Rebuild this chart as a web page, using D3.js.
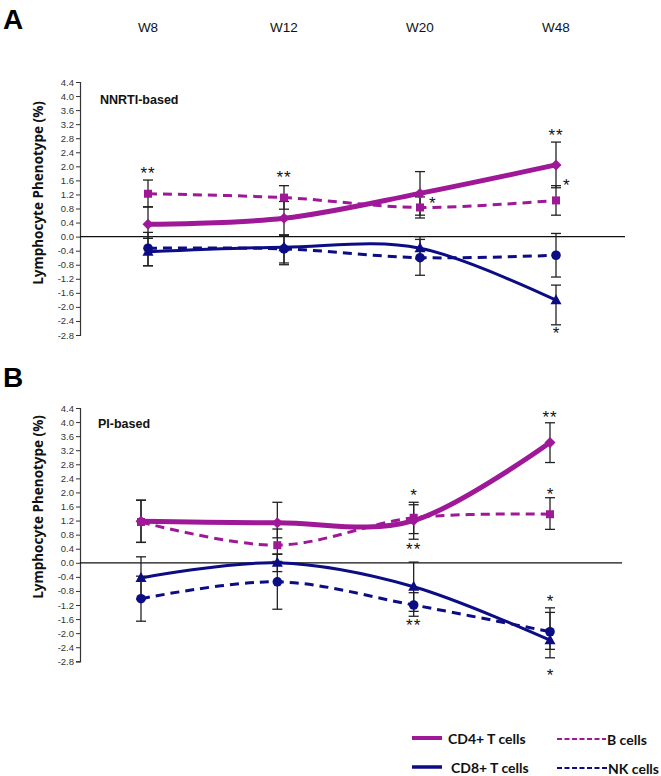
<!DOCTYPE html>
<html><head><meta charset="utf-8">
<script src="https://cdn.jsdelivr.net/npm/d3@7"></script>
<style>body{margin:0;background:#fff}svg{display:block}</style>
</head><body><svg id="c" width="661" height="776"></svg>
<script>
// ---------- data ----------
const weeks = ["W8", "W12", "W20", "W48"];
const yTickLabels = ["4.4","4.0","3.6","3.2","2.8","2.4","2.0","1.6","1.2","0.8","0.4","0.0","-0.4","-0.8","-1.2","-1.6","-2.0","-2.4","-2.8"];
const seriesNames = ["CD4+ T cells", "CD8+ T cells", "B cells", "NK cells"];

// Panel A (NNRTI-based)
const cd4A = [0.35, 0.52, 1.23, 2.04];
const cd4A_up = [0.50, 0.48, 0.62, 0.65];
const cd4A_dn = [0.40, 0.48, 0.62, 0.65];
const bA = [1.22, 1.11, 0.83, 1.03];
const bA_up = [0.39, 0.34, 0.30, 0.42];
const bA_dn = [0.38, 0.33, 0.30, 0.42];
const cd8A = [-0.43, -0.30, -0.33, -1.81];
const cd8A_up = [0.43, 0.33, 0.33, 0.43];
const cd8A_dn = [0.40, 0.45, 0.30, 0.70];
const nkA = [-0.33, -0.35, -0.60, -0.53];
const nkA_up = [0.45, 0.40, 0.52, 0.62];
const nkA_dn = [0.50, 0.45, 0.50, 0.62];
const starsA = [
  {w: "W8", v: 1.88, t: "**", dx: 0},
  {w: "W12", v: 1.75, t: "**", dx: 0},
  {w: "W20", v: 1.01, t: "*", dx: 9},
  {w: "W48", v: 2.95, t: "**", dx: 0},
  {w: "W48", v: 1.53, t: "*", dx: 7},
  {w: "W48", v: -2.68, t: "*", dx: 0}
];

// Panel B (PI-based)
const cd4B = [1.18, 1.14, 1.20, 3.42];
const cd4B_up = [0.60, 0.58, 0.45, 0.56];
const cd4B_dn = [0.60, 0.43, 0.53, 0.57];
const bB = [1.16, 0.50, 1.28, 1.38];
const bB_up = [0.62, 0.46, 0.44, 0.47];
const bB_dn = [0.58, 0.46, 0.45, 0.43];
const cd8B = [-0.43, 0.00, -0.68, -2.20];
const cd8B_up = [0.60, 0.25, 0.70, 0.79];
const cd8B_dn = [0.60, 0.25, 0.70, 0.50];
const nkB = [-1.02, -0.54, -1.20, -1.96];
const nkB_up = [0.64, 0.78, 0.35, 0.68];
const nkB_dn = [0.64, 0.78, 0.32, 0.50];
const starsB = [
  {w: "W20", v: 1.98, t: "*", dx: 0},
  {w: "W20", v: 0.45, t: "**", dx: 0},
  {w: "W20", v: -1.72, t: "**", dx: 0},
  {w: "W48", v: 4.20, t: "**", dx: 0},
  {w: "W48", v: 2.02, t: "*", dx: 0},
  {w: "W48", v: -1.04, t: "*", dx: 0},
  {w: "W48", v: -3.14, t: "*", dx: 0}
];

// ---------- styles ----------
const MAG = "#9E1898", NAVY = "#0C0C84";
const svg = d3.select("#c");
const curve = d3.curveCardinal.tension(0);

function pack(v, up, dn) { return weeks.map((w, i) => ({w, v: v[i], up: up[i], dn: dn[i]})); }

function marker(g, type, x, y, color) {
  if (type === "diamond") {
    g.append("path").attr("d", `M${x},${y-5.5}L${x+5.5},${y}L${x},${y+5.5}L${x-5.5},${y}Z`).attr("fill", color);
  } else if (type === "square") {
    g.append("rect").attr("x", x-4).attr("y", y-4).attr("width", 8).attr("height", 8).attr("fill", color);
  } else if (type === "triangle") {
    g.append("path").attr("d", `M${x},${y-6}L${x+5.5},${y+4}L${x-5.5},${y+4}Z`).attr("fill", color);
  } else {
    g.append("circle").attr("cx", x).attr("cy", y).attr("r", 4.8).attr("fill", color);
  }
}

function drawPanel(cfg) {
  const x = d3.scalePoint().domain(weeks).range(cfg.xr).padding(0);
  const y = d3.scaleLinear().domain([-2.8, 4.4]).range(cfg.yr);
  const g = svg.append("g");

  // y axis
  const ax = d3.axisLeft(y).tickValues(yTickLabels.map(Number)).tickFormat((d, i) => yTickLabels[i]).tickSize(4).tickSizeOuter(4);
  const ag = g.append("g").attr("transform", `translate(${cfg.axisX},0)`).call(ax);
  ag.select(".domain").attr("stroke", "#333").attr("stroke-width", 1.2);
  ag.selectAll(".tick line").attr("stroke", "#333");
  ag.selectAll(".tick text").attr("font-family", "Liberation Sans, Arial, sans-serif").attr("font-size", 9.5).attr("fill", "#333").attr("x", -6);

  // zero line
  g.append("line").attr("x1", cfg.axisX).attr("x2", cfg.zeroEnd).attr("y1", y(0)).attr("y2", y(0)).attr("stroke", "#111").attr("stroke-width", 1.2);

  // title
  g.append("text").attr("transform", `translate(38,${cfg.titleY}) rotate(-90)`).attr("text-anchor", "middle").attr("dominant-baseline", "central")
    .attr("font-family", "Open Sans, sans-serif").attr("font-weight", "bold").attr("font-size", 13.5).attr("fill", "#111").text("Lymphocyte Phenotype (%)");
  g.append("text").attr("x", cfg.subX).attr("y", cfg.subY).attr("font-family", "Liberation Sans, Arial, sans-serif").attr("font-weight", "bold").attr("font-size", 12.5).attr("fill", "#111").text(cfg.sub);
  svg.append("text").attr("x", 3).attr("y", cfg.letterY).attr("font-family", "Liberation Sans Narrow, Liberation Sans, sans-serif").attr("font-weight", "bold").attr("font-size", 28).attr("fill", "#000").text(cfg.letter);

  const ser = cfg.series;
  // lines
  ser.forEach(s => {
    g.append("path").datum(s.data).attr("fill", "none").attr("stroke", s.color).attr("stroke-width", s.width)
      .attr("stroke-dasharray", s.dash || null)
      .attr("d", d3.line().x(d => x(d.w)).y(d => y(d.v)).curve(curve));
  });
  // error bars
  ser.forEach(s => {
    s.data.forEach(d => {
      const cx = x(d.w), y1 = y(d.v + d.up), y2 = y(d.v - d.dn);
      g.append("line").attr("x1", cx).attr("x2", cx).attr("y1", y1).attr("y2", y2).attr("stroke", "#222").attr("stroke-width", 1.3);
      [y1, y2].forEach(yy => g.append("line").attr("x1", cx-5).attr("x2", cx+5).attr("y1", yy).attr("y2", yy).attr("stroke", "#222").attr("stroke-width", 1.3));
    });
  });
  // markers
  ser.forEach(s => s.data.forEach(d => marker(g, s.marker, x(d.w), y(d.v), s.color)));
  // stars
  cfg.stars.forEach(a => {
    g.append("text").attr("x", x(a.w) + a.dx).attr("y", y(a.v) + 8).attr("text-anchor", a.dx ? "start" : "middle")
      .attr("font-family", "Liberation Sans, Arial, sans-serif").attr("font-size", 17).attr("letter-spacing", a.t.length > 1 ? 1 : 0).attr("fill", "#111").text(a.t);
  });
  return x;
}

const xA = drawPanel({
  xr: [148, 556], yr: [335, 82], axisX: 80, zeroEnd: 625, titleY: 193, sub: "NNRTI-based", subX: 100, subY: 104, letter: "A", letterY: 29,
  series: [
    {data: pack(bA, bA_up, bA_dn), color: MAG, width: 3, dash: "9,6", marker: "square"},
    {data: pack(nkA, nkA_up, nkA_dn), color: NAVY, width: 3, dash: "9,6", marker: "circle"},
    {data: pack(cd8A, cd8A_up, cd8A_dn), color: NAVY, width: 3, marker: "triangle"},
    {data: pack(cd4A, cd4A_up, cd4A_dn), color: MAG, width: 5, marker: "diamond"}
  ],
  stars: starsA
});
drawPanel({
  xr: [141, 550], yr: [661.3, 408], axisX: 80, zeroEnd: 622, titleY: 507, sub: "PI-based", subX: 98, subY: 428, letter: "B", letterY: 387,
  series: [
    {data: pack(bB, bB_up, bB_dn), color: MAG, width: 3, dash: "9,6", marker: "square"},
    {data: pack(nkB, nkB_up, nkB_dn), color: NAVY, width: 3, dash: "9,6", marker: "circle"},
    {data: pack(cd8B, cd8B_up, cd8B_dn), color: NAVY, width: 3, marker: "triangle"},
    {data: pack(cd4B, cd4B_up, cd4B_dn), color: MAG, width: 5, marker: "diamond"}
  ],
  stars: starsB
});

// week header labels
svg.selectAll("text.wk").data(weeks).join("text").attr("class", "wk")
  .attr("x", d => xA(d)).attr("y", 32).attr("text-anchor", "middle")
  .attr("font-family", "Liberation Sans, Arial, sans-serif").attr("font-size", 13.5).attr("fill", "#111").text(d => d);

// legend
const legend = [
  {name: seriesNames[0], color: MAG, width: 4, dash: null, x1: 412, x2: 442, y: 738, tx: 448},
  {name: seriesNames[1], color: NAVY, width: 3.5, dash: null, x1: 412, x2: 442, y: 767, tx: 451},
  {name: seriesNames[2], color: MAG, width: 2, dash: "5,2.5", x1: 557, x2: 606, y: 739, tx: 607},
  {name: seriesNames[3], color: NAVY, width: 2, dash: "5,2.5", x1: 557, x2: 607, y: 768, tx: 608}
];
const lg = svg.append("g");
legend.forEach(l => {
  lg.append("line").attr("x1", l.x1).attr("x2", l.x2).attr("y1", l.y).attr("y2", l.y).attr("stroke", l.color).attr("stroke-width", l.width).attr("stroke-dasharray", l.dash);
  lg.append("text").attr("x", l.tx).attr("y", l.y).attr("dominant-baseline", "central").attr("font-family", "Lato, sans-serif").attr("font-weight", "bold").attr("font-size", 14).attr("fill", "#111").text(l.name);
});
</script></body></html>
